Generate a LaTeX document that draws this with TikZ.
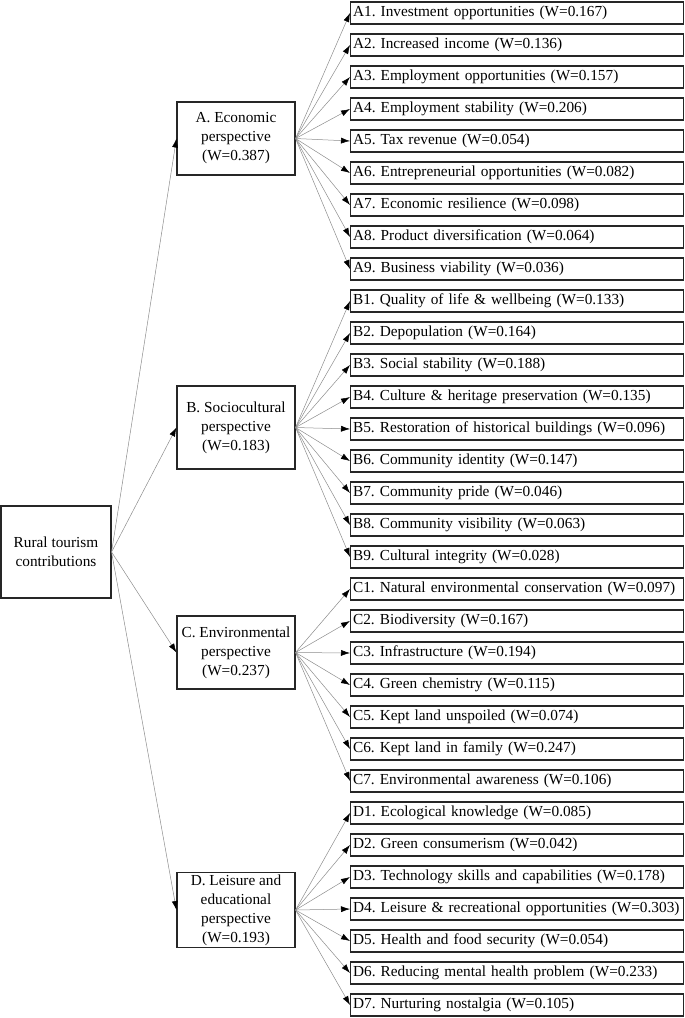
\documentclass[tikz,border=0pt]{standalone}
\usepackage{fontspec}
\setmainfont{Liberation Serif}
\usetikzlibrary{arrows.meta}
\begin{document}
\frenchspacing
\begin{tikzpicture}[x=1pt,y=-1pt,
  txt/.style={font=\fontsize{15.3}{19}\selectfont\frenchspacing},
  box/.style={txt,draw=black!85,line width=1.1pt,align=center,inner sep=2pt,minimum width=118pt},
  leaf/.style={txt,draw=black!85,line width=1.1pt,anchor=west,minimum height=22pt,text width=328pt,inner xsep=2.5pt,inner ysep=0pt,align=left},
  conn/.style={draw=black!45,line width=0.5pt,-{Latex[black,length=9pt,width=6pt]}}]
\useasboundingbox (0,0) rectangle (685,1018);
\node[box,minimum width=110pt,minimum height=92pt] (root) at (56,552) {Rural tourism\\contributions};
\node[box,minimum height=73pt] (A) at (236,138.5) {A. Economic\\perspective\\(W=0.387)};
\node[box,minimum height=83pt] (B) at (236,427.5) {B. Sociocultural\\perspective\\(W=0.183)};
\node[box,minimum height=73pt] (C) at (236,652.5) {C. Environmental\\perspective\\(W=0.237)};
\node[box,minimum height=74pt] (D) at (236,910) {D. Leisure and\\educational\\perspective\\(W=0.193)};
\foreach \n/\t [count=\i] in {
 a1/{A1. Investment opportunities (W=0.167)},
 a2/{A2. Increased income (W=0.136)},
 a3/{A3. Employment opportunities (W=0.157)},
 a4/{A4. Employment stability (W=0.206)},
 a5/{A5. Tax revenue (W=0.054)},
 a6/{A6. Entrepreneurial opportunities (W=0.082)},
 a7/{A7. Economic resilience (W=0.098)},
 a8/{A8. Product diversification (W=0.064)},
 a9/{A9. Business viability (W=0.036)},
 b1/{B1. Quality of life \& wellbeing (W=0.133)},
 b2/{B2. Depopulation (W=0.164)},
 b3/{B3. Social stability (W=0.188)},
 b4/{B4. Culture \& heritage preservation (W=0.135)},
 b5/{B5. Restoration of historical buildings (W=0.096)},
 b6/{B6. Community identity (W=0.147)},
 b7/{B7. Community pride (W=0.046)},
 b8/{B8. Community visibility (W=0.063)},
 b9/{B9. Cultural integrity (W=0.028)},
 c1/{C1. Natural environmental conservation (W=0.097)},
 c2/{C2. Biodiversity (W=0.167)},
 c3/{C3. Infrastructure (W=0.194)},
 c4/{C4. Green chemistry (W=0.115)},
 c5/{C5. Kept land unspoiled (W=0.074)},
 c6/{C6. Kept land in family (W=0.247)},
 c7/{C7. Environmental awareness (W=0.106)},
 d1/{D1. Ecological knowledge (W=0.085)},
 d2/{D2. Green consumerism (W=0.042)},
 d3/{D3. Technology skills and capabilities (W=0.178)},
 d4/{D4. Leisure \& recreational opportunities (W=0.303)},
 d5/{D5. Health and food security (W=0.054)},
 d6/{D6. Reducing mental health problem (W=0.233)},
 d7/{D7. Nurturing nostalgia (W=0.105)}}
 \node[leaf] (\n) at (350,{13+32*(\i-1)}) {\t};
\foreach \p in {A,B,C,D} \draw[conn] (root.east) -- (\p.west);
\foreach \k in {1,...,9} \draw[conn] (A.east) -- (a\k.west);
\foreach \k in {1,...,9} \draw[conn] (B.east) -- (b\k.west);
\foreach \k in {1,...,7} \draw[conn] (C.east) -- (c\k.west);
\foreach \k in {1,...,7} \draw[conn] (D.east) -- (d\k.west);
\end{tikzpicture}
\end{document}
